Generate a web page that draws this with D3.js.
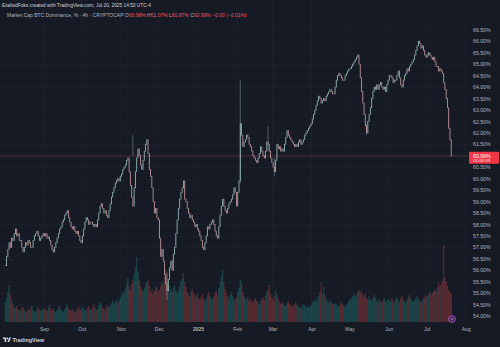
<!DOCTYPE html>
<html>
<head>
<meta charset="utf-8">
<script src="https://cdn.jsdelivr.net/npm/d3@7"></script>
<style>
html, body { margin: 0; padding: 0; background: #161a25; }
svg { display: block; font-family: "Liberation Sans", Arial, sans-serif; }
</style>
</head>
<body>
<svg id="chart" width="500" height="347"></svg>
<script>
// one value per day, starting Aug 1 2024 (BTC dominance, %)
var firstDay = new Date(2024, 7, 1, 12);

var closes = [
  // Aug
  56.2, 56.6, 56.9, 57.2, 57.0, 57.4, 57.3, 57.6, 57.8, 57.5, 57.6, 57.3, 57.3, 57.0, 56.8, 57.0,
  57.2, 57.1, 57.3, 57.2, 57.0, 57.0, 57.3, 57.5, 57.6, 57.7, 57.5, 57.3, 57.4, 57.5, 57.6,
  // Sep
  57.5, 57.6, 57.4, 57.45, 57.3, 57.1, 56.9, 56.8, 57.0, 57.2, 57.4, 57.6, 57.8, 57.9, 58.1,
  58.2, 58.4, 58.5, 58.6, 58.3, 58.1, 57.9, 57.8, 57.9, 57.7, 57.6, 57.7, 57.5, 57.3, 57.2,
  // Oct
  57.5, 57.8, 58.1, 58.3, 58.2, 58.0, 58.1, 58.1, 58.0, 57.9, 58.0, 57.9, 58.2, 58.5, 58.8, 58.9,
  58.7, 58.5, 58.6, 58.4, 58.3, 58.6, 58.9, 59.2, 59.4, 59.6, 59.8, 59.9, 60.0, 59.9, 60.1,
  // Nov
  60.2, 60.4, 60.5, 60.6, 60.8, 60.9, 60.3, 59.7, 59.2, 58.8, 59.6, 60.3, 60.9, 61.3, 61.0,
  60.6, 60.4, 60.8, 61.2, 61.5, 61.7, 61.1, 60.4, 60.1, 59.6, 59.0, 58.5, 58.7, 58.3, 58.2,
  // Dec
  57.4, 56.6, 56.9, 56.4, 55.8, 55.4, 55.1, 55.6, 56.1, 56.4, 56.0, 56.7, 57.0, 57.6, 58.2, 58.7,
  59.1, 59.4, 59.6, 59.9, 59.1, 59.0, 58.7, 58.5, 58.3, 58.4, 58.2, 58.1, 57.9, 58.0, 57.8,
  // Jan
  57.7, 57.5, 57.3, 57.0, 56.9, 57.2, 57.5, 57.9, 57.8, 58.0, 58.1, 58.2, 58.0, 57.7, 57.5, 57.4,
  57.9, 58.4, 58.8, 59.1, 58.8, 58.6, 58.5, 58.7, 58.9, 59.0, 59.1, 59.3, 59.6, 59.4, 58.8,
  // Feb
  59.4, 59.9, 62.4, 61.9, 61.4, 61.6, 61.7, 61.9, 61.8, 61.5, 61.4, 61.2, 61.0, 60.9,
  60.8, 60.7, 60.9, 61.1, 61.4, 61.2, 61.0, 60.9, 61.2, 61.6, 61.5, 61.2, 60.9, 60.7,
  // Mar
  60.5, 60.3, 60.8, 61.5, 61.3, 61.4, 61.2, 61.3, 61.2, 61.5, 61.8, 62.1, 61.9, 61.8, 61.7, 61.6,
  61.5, 61.4, 61.5, 61.4, 61.6, 61.7, 61.5, 61.6, 61.7, 61.9, 62.0, 62.1, 62.2, 62.3, 62.4,
  // Apr
  62.6, 62.8, 63.0, 63.2, 63.4, 63.6, 63.5, 63.3, 63.4, 63.5, 63.4, 63.6, 63.7, 63.8, 63.9,
  63.8, 63.7, 63.7, 64.0, 64.3, 64.5, 64.6, 64.5, 64.4, 64.3, 64.3, 64.5, 64.6, 64.7, 64.8,
  // May
  64.8, 64.9, 65.0, 65.1, 65.2, 65.3, 65.4, 65.0, 64.4, 63.8, 63.3, 62.8, 62.3, 62.0, 62.5, 62.8,
  63.1, 63.5, 63.8, 64.0, 63.9, 64.1, 63.9, 64.1, 64.2, 64.0, 63.9, 64.0, 63.8, 64.1, 64.3,
  // Jun
  64.5, 64.5, 64.4, 64.2, 64.3, 64.3, 64.5, 64.7, 64.4, 64.1, 64.0, 64.3, 64.5, 64.6, 64.8,
  64.7, 64.9, 65.0, 65.1, 65.2, 65.4, 65.6, 65.8, 66.0, 65.9, 65.7, 65.8, 65.6, 65.4, 65.3,
  // Jul
  65.4, 65.5, 65.4, 65.3, 65.2, 65.3, 65.1, 64.9, 64.9, 64.7, 64.8, 64.7, 64.6, 64.2, 63.9,
  63.5, 63.1, 62.2, 61.7, 60.99
];

var volumes = [
  // Aug
  20, 24, 30, 37, 28, 22, 18, 15, 14, 16, 13, 12, 11, 14, 15, 12, 10, 11, 13, 12, 14, 16, 12, 11, 10, 13, 15, 12, 11, 13, 12,
  // Sep
  14, 12, 11, 15, 17, 13, 12, 14, 11, 10, 12, 13, 16, 12, 11, 10, 13, 15, 18, 14, 12, 11, 13, 12, 10, 11, 14, 16, 13, 12,
  // Oct
  15, 13, 12, 11, 14, 16, 13, 12, 15, 18, 14, 12, 13, 16, 20, 17, 14, 13, 12, 15, 17, 14, 16, 19, 22, 18, 20, 23, 19, 21, 24,
  // Nov
  26, 30, 28, 33, 38, 44, 36, 32, 38, 42, 48, 55, 65, 50, 42, 36, 32, 30, 34, 38, 40, 42, 36, 30, 33, 28, 31, 36, 34, 30,
  // Dec
  32, 36, 40, 38, 45, 52, 47, 40, 36, 33, 30, 34, 37, 32, 28, 31, 36, 40, 44, 49, 40, 35, 30, 28, 26, 30, 33, 29, 27, 25, 28,
  // Jan
  24, 22, 25, 28, 24, 21, 23, 27, 30, 26, 24, 22, 25, 29, 31, 27, 34, 40, 46, 52, 40, 33, 29, 26, 24, 27, 30, 26, 23, 22, 25,
  // Feb
  30, 34, 42, 38, 30, 26, 24, 22, 25, 21, 23, 20, 19, 22, 24, 21, 20, 18, 21, 23, 25, 22, 26, 30, 33, 37, 28, 24,
  // Mar
  22, 26, 32, 28, 24, 21, 19, 18, 20, 17, 16, 19, 21, 18, 17, 15, 16, 18, 20, 17, 16, 15, 14, 16, 18, 17, 15, 14, 16, 15, 17,
  // Apr
  19, 22, 20, 24, 21, 26, 30, 39, 28, 35, 27, 24, 21, 19, 22, 20, 18, 17, 19, 18, 16, 15, 17, 20, 18, 16, 15, 17, 19, 21,
  // May
  22, 24, 26, 28, 25, 27, 30, 32, 29, 31, 27, 25, 28, 24, 22, 26, 23, 21, 24, 27, 25, 22, 20, 23, 21, 19, 22, 24, 21, 20, 23,
  // Jun
  22, 20, 24, 21, 19, 23, 25, 22, 20, 24, 26, 23, 21, 19, 22, 25, 27, 24, 21, 20, 22, 24, 26, 23, 21, 20, 22, 24, 25, 27,
  // Jul
  26, 28, 30, 27, 29, 31, 33, 30, 34, 40, 36, 38, 41, 77, 44, 40, 36, 32, 30, 28
];

// long wicks that stand out on the chart: [day, high, low]
var wicks = [
  ["2024-11-10", 61.9, 61.0],
  ["2024-12-07", 55.9, 54.7],
  ["2025-02-03", 64.3, 59.8],
  ["2025-02-25", 62.3, 61.2],
  ["2025-03-02", 60.9, 60.1],
  ["2025-05-14", 62.4, 61.9]
];

var priceTicks = [54, 54.5, 55, 55.5, 56, 56.5, 57, 57.5, 58, 58.5, 59, 59.5, 60, 60.5,
                  61, 61.5, 62, 62.5, 63, 63.5, 64, 64.5, 65, 65.5, 66, 66.5];
var monthTicks = ["2024-09-01", "2024-10-01", "2024-11-01", "2024-12-01", "2025-01-01", "2025-02-01",
                  "2025-03-01", "2025-04-01", "2025-05-01", "2025-06-01", "2025-07-01", "2025-08-01"];
var monthLabels = ["Sep", "Oct", "Nov", "Dec", "2025", "Feb", "Mar", "Apr", "May", "Jun", "Jul", "Aug"];

var ohlcKeys = ["O", "H", "L", "C"];
var ohlcValues = ["60.98%", "61.07%", "60.87%", "60.99%"];
var lastPrice = 60.99;

var upColor = "#26a69a", downColor = "#ef5350";
var plotRight = 468, plotBottom = 322;

var parse = d3.timeParse("%Y-%m-%d");
var svg = d3.select("#chart");

var x = d3.scaleTime()
  .domain([new Date(2024, 6, 28, 7), new Date(2025, 7, 2, 19)])
  .range([0, plotRight]);
var y = d3.scaleLinear().domain([54, 66.5]).range([316, 29.8]);
var vy = d3.scaleLinear().domain([0, 80]).range([plotBottom, 242]);

var days = closes.map(function(c, i){
  return {
    date: d3.timeDay.offset(firstDay, i),
    open: i > 0 ? closes[i - 1] : c,
    close: c,
    volume: volumes[i]
  };
});

// background
svg.append("rect").attr("width", 500).attr("height", 347).attr("fill", "#161a25");

// grid
svg.append("g").selectAll("line").data(priceTicks).enter().append("line")
  .attr("x1", 0).attr("x2", plotRight)
  .attr("y1", function(d){ return Math.round(y(d)) + 0.5; })
  .attr("y2", function(d){ return Math.round(y(d)) + 0.5; })
  .attr("stroke", "#1e222e").attr("stroke-width", 0.7);

svg.append("g").selectAll("line").data(monthTicks).enter().append("line")
  .attr("x1", function(d){ return x(parse(d)); })
  .attr("x2", function(d){ return x(parse(d)); })
  .attr("y1", 0).attr("y2", plotBottom)
  .attr("stroke", "#1e222e").attr("stroke-width", 0.7);

// volume
svg.append("g").selectAll("rect").data(days).enter().append("rect")
  .attr("x", function(d){ return x(d.date) - 0.7; })
  .attr("width", 1.4)
  .attr("y", function(d){ return vy(d.volume); })
  .attr("height", function(d){ return plotBottom - vy(d.volume); })
  .attr("fill", function(d){ return d.close >= d.open ? upColor : downColor; })
  .attr("opacity", 0.28);

// last price line
svg.append("line")
  .attr("x1", 0).attr("x2", plotRight)
  .attr("y1", y(lastPrice)).attr("y2", y(lastPrice))
  .attr("stroke", "#6b3c45").attr("stroke-width", 0.6);

// wicks
svg.append("g").selectAll("line").data(wicks).enter().append("line")
  .attr("x1", function(d){ return x(d3.timeHour.offset(parse(d[0]), 12)); })
  .attr("x2", function(d){ return x(d3.timeHour.offset(parse(d[0]), 12)); })
  .attr("y1", function(d){ return y(d[1]); })
  .attr("y2", function(d){ return y(d[2]); })
  .attr("stroke", "#8aa5aa").attr("stroke-width", 0.5);

// candles
svg.append("g").selectAll("rect").data(days).enter().append("rect")
  .attr("x", function(d){ return x(d.date) - 0.45; })
  .attr("width", 0.9)
  .attr("y", function(d){ return y(Math.max(d.open, d.close)) - 0.4; })
  .attr("height", function(d){ return Math.max(0.9, Math.abs(y(d.open) - y(d.close)) + 0.8); })
  .attr("fill", function(d){ return d.close >= d.open ? "#a9cfcb" : "#d9a8a8"; })
  .attr("opacity", 0.85);

// price axis
var yAxis = svg.append("g")
  .attr("transform", "translate(" + plotRight + ",0)")
  .call(d3.axisRight(y).tickValues(priceTicks).tickSize(0).tickPadding(5)
    .tickFormat(function(d){ return d.toFixed(2) + "%"; }));
yAxis.select(".domain").remove();
yAxis.selectAll("text").attr("fill", "#b2b5be").attr("font-size", 5.2)
  .attr("font-family", "Liberation Sans, Arial, sans-serif");

// last price tag
var tagY = y(lastPrice);
svg.append("rect").attr("x", 469).attr("y", tagY - 4.2).attr("width", 30).attr("height", 12)
  .attr("rx", 1).attr("fill", "#f23645");
svg.append("text").attr("x", 473).attr("y", tagY + 1.7).attr("fill", "#ffffff")
  .attr("font-size", 5.2).text(lastPrice.toFixed(2) + "%");
svg.append("text").attr("x", 473).attr("y", tagY + 6.5).attr("fill", "#ffe0e0")
  .attr("font-size", 4.4).text("01:06:59");

// time axis
var xAxis = svg.append("g")
  .attr("transform", "translate(0," + plotBottom + ")")
  .call(d3.axisBottom(x).tickValues(monthTicks.map(parse)).tickSize(0).tickPadding(5.5)
    .tickFormat(function(d, i){ return monthLabels[i]; }));
xAxis.select(".domain").remove();
xAxis.selectAll("text").attr("fill", "#b2b5be").attr("font-size", 5)
  .attr("font-family", "Liberation Sans, Arial, sans-serif")
  .attr("font-weight", function(d, i){ return monthLabels[i] === "2025" ? "bold" : "normal"; });

// event marker
svg.append("circle").attr("cx", 452).attr("cy", 319).attr("r", 3.3)
  .attr("fill", "#2a1b3a").attr("stroke", "#b14fd8").attr("stroke-width", 1);
svg.append("circle").attr("cx", 452).attr("cy", 319).attr("r", 1.2)
  .attr("fill", "none").attr("stroke", "#d9a3ee").attr("stroke-width", 0.6);

// header
svg.append("text").attr("x", 2).attr("y", 7.4).attr("fill", "#d1d4dc").attr("font-size", 4.8)
  .text("ExaltedFoks created with TradingView.com, Jul 20, 2025 14:53 UTC-4");

var legend = svg.append("text").attr("x", 7).attr("y", 17.4).attr("font-size", 5)
  .attr("fill", "#b2b5be");
legend.append("tspan").text("Market Cap BTC Dominance, % · 4h · CRYPTOCAP ");
ohlcKeys.forEach(function(k, i){
  legend.append("tspan").attr("fill", "#b2b5be").text(k);
  legend.append("tspan").attr("fill", "#f7525f").text(ohlcValues[i] + " ");
});
legend.append("tspan").attr("fill", "#f7525f").text("\u22120.00 (\u22120.01%)");

// footer logo
var logo = svg.append("g").attr("transform", "translate(3,337.5)").attr("fill", "#d1d4dc");
logo.append("path").attr("d", "M0,0 H3.2 V4.6 H1.6 V1.6 H0 Z");
logo.append("circle").attr("cx", 4.3).attr("cy", 0.9).attr("r", 0.9);
logo.append("path").attr("d", "M4.4,4.6 L6.2,0 H8 L6.2,4.6 Z");
svg.append("text").attr("x", 12.5).attr("y", 342.2).attr("fill", "#d1d4dc")
  .attr("font-size", 5.4).attr("font-weight", "bold").text("TradingView");
</script>
</body>
</html>
